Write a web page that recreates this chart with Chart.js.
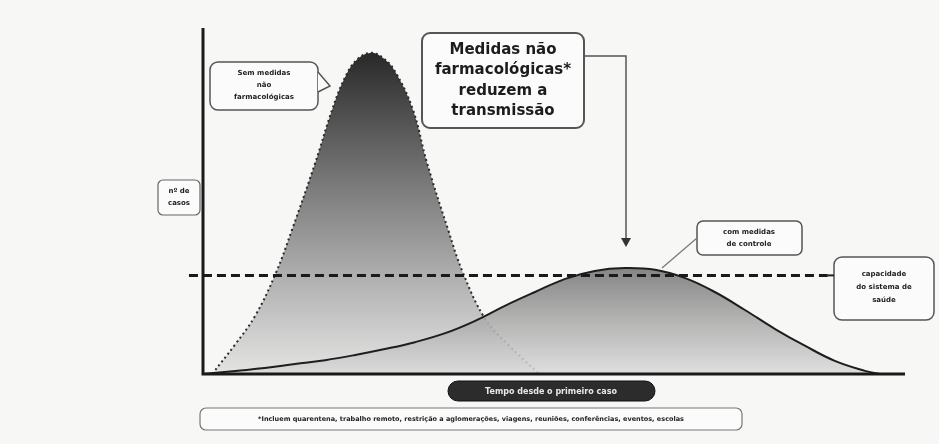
<!DOCTYPE html>
<html>
<head>
<meta charset="utf-8">
<script src="https://cdn.jsdelivr.net/npm/chart.js@4"></script>
<style>
  html, body { margin: 0; padding: 0; background: #f7f7f5; }
  #wrap { width: 939px; height: 444px; }
</style>
</head>
<body>
<div id="wrap"><canvas id="myChart" width="939" height="444"></canvas></div>
<script>
// curve without measures (time %, cases %)
const semX = [1.3, 4.6, 7.4, 10.3, 12.7, 16.0, 18.4, 20.2, 21.9, 23.8, 25.6, 27.4, 29.9, 31.9, 34.9, 37.0, 40.2, 43.4, 47.9];
const semY = [0, 8.6, 16.7, 28.8, 41.8, 61.1, 76.4, 85.6, 90.8, 92.8, 91.4, 87.3, 76.4, 61.1, 41.8, 29.4, 15.9, 8.6, 0];
// curve with control measures
const comX = [0, 4.6, 8.8, 13.1, 17.4, 21.7, 25.9, 30.2, 34.5, 38.7, 43.0, 47.3, 51.6, 55.8, 60.1, 64.4, 68.7, 72.9, 77.2, 81.5, 85.8, 90.0, 94.3, 96.4];
const comY = [0, 0.9, 1.7, 2.9, 4.0, 5.5, 7.2, 9.2, 11.8, 15.3, 19.7, 23.7, 27.5, 29.8, 30.6, 30.1, 27.7, 23.7, 18.5, 13.0, 8.1, 3.8, 0.9, 0];
// health system capacity
const capacidade = 28.5;
const capX = [-2, 89];

const labels = {
    semMedidas: ['Sem medidas', 'não', 'farmacológicas'],
    eixoY: ['nº de', 'casos'],
    comMedidas: ['com medidas', 'de controle'],
    capacidade: ['capacidade', 'do sistema de', 'saúde'],
    eixoX: 'Tempo desde o primeiro caso',
    destaque: ['Medidas não', 'farmacológicas*', 'reduzem a', 'transmissão'],
    nota: '*Incluem quarentena, trabalho remoto, restrição a aglomerações, viagens, reuniões, conferências, eventos, escolas'
};

function pts(xs, ys) { return xs.map((x, i) => ({ x: x, y: ys[i] })); }

function grad(ctx, top, c1, c2) {
    const chart = ctx.chart;
    const a = chart.chartArea;
    if (!a) return c2;
    const yTop = chart.scales.y.getPixelForValue(top);
    const g = chart.ctx.createLinearGradient(0, yTop, 0, a.bottom);
    g.addColorStop(0, c1);
    g.addColorStop(1, c2);
    return g;
}

function roundBox(c, x, y, w, h, r, fill, stroke, lw) {
    c.beginPath();
    c.roundRect(x, y, w, h, r);
    if (fill) { c.fillStyle = fill; c.fill(); }
    if (stroke) { c.strokeStyle = stroke; c.lineWidth = lw || 1.5; c.stroke(); }
}

function lines(c, arr, cx, y0, lh) {
    arr.forEach((t, i) => c.fillText(t, cx, y0 + i * lh));
}

const annot = {
    id: 'annot',
    afterDraw(chart) {
        const c = chart.ctx;
        const sx = chart.scales.x, sy = chart.scales.y;
        const x0 = sx.getPixelForValue(0), y0 = sy.getPixelForValue(0);
        c.save();
        // axes
        c.strokeStyle = '#1a1a1a';
        c.lineWidth = 3;
        c.beginPath();
        c.moveTo(x0, chart.chartArea.top);
        c.lineTo(x0, y0);
        c.lineTo(chart.chartArea.right, y0);
        c.stroke();

        c.textAlign = 'center';
        c.textBaseline = 'middle';

        // top callout
        roundBox(c, 422, 33, 162, 95, 8, '#fbfbfb', '#555', 2);
        c.fillStyle = '#1c1c1c';
        c.font = 'bold 15px "DejaVu Sans"';
        lines(c, labels.destaque, 503, 50, 20.5);
        c.strokeStyle = '#555';
        c.lineWidth = 1.5;
        c.beginPath();
        c.moveTo(584, 56);
        c.lineTo(626, 56);
        c.lineTo(626, 240);
        c.stroke();
        c.fillStyle = '#333';
        c.beginPath();
        c.moveTo(621, 238); c.lineTo(631, 238); c.lineTo(626, 247);
        c.fill();

        // left callout with pointer
        roundBox(c, 210, 62, 108, 48, 8, '#fbfbfb', '#555', 1.5);
        c.beginPath();
        c.moveTo(318, 72); c.lineTo(330, 86); c.lineTo(318, 92);
        c.fillStyle = '#fbfbfb'; c.fill();
        c.strokeStyle = '#555'; c.lineWidth = 1.5; c.stroke();
        c.fillStyle = '#222';
        c.font = 'bold 7px "DejaVu Sans"';
        lines(c, labels.semMedidas, 264, 73, 12);

        // y-axis label
        roundBox(c, 158, 180, 42, 35, 5, '#fbfbfb', '#666', 1.2);
        c.fillStyle = '#222';
        lines(c, labels.eixoY, 179, 191, 12);

        // com medidas callout
        roundBox(c, 697, 221, 105, 34, 6, '#fbfbfb', '#555', 1.5);
        c.fillStyle = '#222';
        lines(c, labels.comMedidas, 749, 232, 12);
        c.beginPath();
        c.strokeStyle = '#777';
        c.lineWidth = 1.2;
        c.moveTo(697, 238); c.lineTo(662, 268);
        c.stroke();

        // capacidade callout
        roundBox(c, 834, 257, 100, 63, 8, '#fbfbfb', '#555', 1.5);
        c.fillStyle = '#222';
        lines(c, labels.capacidade, 884, 274, 13);
        c.beginPath();
        c.strokeStyle = '#222';
        c.lineWidth = 2;
        c.moveTo(sx.getPixelForValue(capX[1]), sy.getPixelForValue(capacidade));
        c.lineTo(834, sy.getPixelForValue(capacidade));
        c.stroke();

        // x-axis label
        roundBox(c, 448, 381, 207, 20, 10, '#2c2c2c', '#111', 1);
        c.fillStyle = '#e8e8e8';
        c.font = 'bold 8px "DejaVu Sans"';
        c.fillText(labels.eixoX, 551, 391.5);

        // footnote
        roundBox(c, 200, 408, 542, 22, 6, '#fbfbfb', '#777', 1.2);
        c.fillStyle = '#222';
        c.font = 'bold 6.5px "DejaVu Sans"';
        c.fillText(labels.nota, 471, 419.5);
        c.restore();
    }
};

window.addEventListener('DOMContentLoaded', () => {
    const ctx = document.getElementById('myChart').getContext('2d');
    const myChart = new Chart(ctx, {
        type: 'line',
        data: {
            datasets: [{
                label: 'sem medidas',
                data: pts(semX, semY),
                fill: 'origin',
                backgroundColor: (c) => grad(c, 93, 'rgba(40,40,40,1)', 'rgba(225,225,225,0.9)'),
                borderColor: '#2a2a2a',
                borderWidth: 2,
                borderDash: [2, 3],
                tension: 0.4,
                pointRadius: 0,
                order: 2
            }, {
                label: 'com medidas',
                data: pts(comX, comY),
                fill: 'origin',
                backgroundColor: (c) => grad(c, 31, 'rgba(125,125,125,0.95)', 'rgba(218,218,218,0.85)'),
                borderColor: '#1e1e1e',
                borderWidth: 2,
                tension: 0.4,
                pointRadius: 0,
                order: 1
            }, {
                label: 'capacidade',
                data: pts(capX, [capacidade, capacidade]),
                fill: false,
                borderColor: '#1a1a1a',
                borderWidth: 3,
                borderDash: [9, 5],
                pointRadius: 0,
                clip: false,
                order: 0
            }]
        },
        options: {
            responsive: false,
            animation: false,
            layout: { padding: { left: 203, right: 34, top: 28, bottom: 70 } },
            plugins: { legend: { display: false }, tooltip: { enabled: false } },
            scales: {
                x: { type: 'linear', min: 0, max: 100, display: false },
                y: { min: 0, max: 100, display: false }
            }
        },
        plugins: [annot]
    });
});
</script>
</body>
</html>
